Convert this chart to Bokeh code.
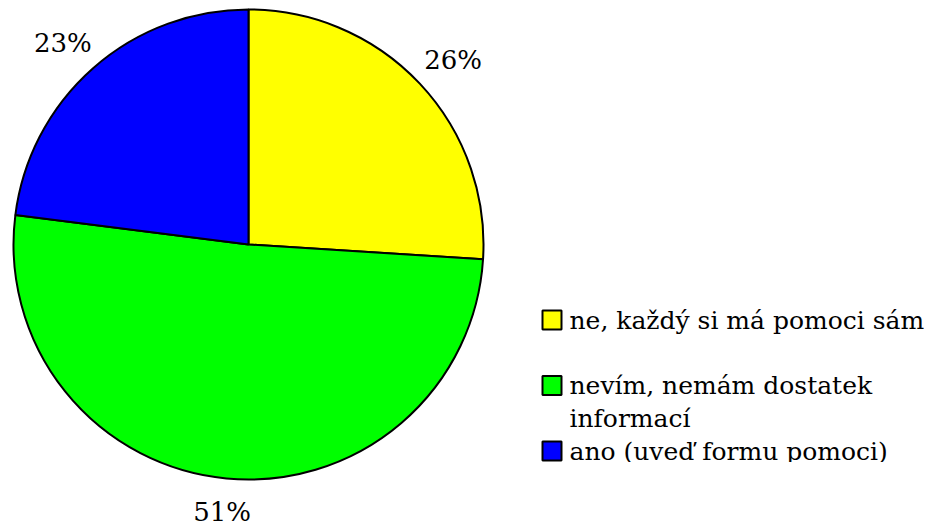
import math
from bokeh.plotting import figure
from bokeh.models import Range1d, ColumnDataSource
from bokeh.layouts import row
from bokeh.core.properties import value
from bokeh.embed import file_html
from bokeh.resources import INLINE

# ---- data ----
categories = ["ne, každý si má pomoci sám", "nevím, nemám dostatek\ninformací", "ano (uveď formu pomoci)"]
shares = [26, 51, 23]
pct_labels = ["26%", "51%", "23%"]
colors = ["#FFFF00", "#00FF00", "#0000FF"]

FONT = "DejaVu Serif"
WIN_H = 530  # data y = WIN_H - screen y

# ---- pie figure ----
left_w, left_h = 528, 530
p = figure(width=left_w, height=left_h, output_backend="svg", toolbar_location=None,
           x_range=Range1d(0, left_w), y_range=Range1d(WIN_H - left_h, WIN_H),
           x_axis_location=None, y_axis_location=None, min_border=0,
           outline_line_color=None, background_fill_color="white", border_fill_color="white")
p.grid.visible = False

cx, cy, r = 248, WIN_H - 244, 235
total = float(sum(shares))
starts, ends, lx, ly = [], [], [], []
acc = 0.0
font_px = 26
for s, t in zip(shares, pct_labels):
    f0 = acc / total
    acc += s
    f1 = acc / total
    a0 = math.pi / 2 - 2 * math.pi * f0
    a1 = math.pi / 2 - 2 * math.pi * f1
    starts.append(a0)
    ends.append(a1)
    mid = (a0 + a1) / 2
    ux, uy = math.cos(mid), math.sin(mid)
    w = 0.66 * font_px * len(t)
    d = 255
    lx.append(cx + ux * (d + w / 2))
    ly.append(cy + uy * (d + 14))

src = ColumnDataSource(dict(start=starts, end=ends, color=colors))
p.wedge(x=cx, y=cy, radius=r, radius_units="screen", start_angle="start", end_angle="end",
        direction="clock", fill_color="color", line_color="black", line_width=2, source=src)

p.text(x=lx, y=ly, text=pct_labels, text_font=value(FONT), text_font_size=f"{font_px}px",
       text_align="center", text_baseline="middle", text_color="black")

# ---- legend figure ----
right_w, right_h = 406, 462
q = figure(width=right_w, height=right_h, output_backend="svg", toolbar_location=None,
           x_range=Range1d(left_w, left_w + right_w),
           y_range=Range1d(WIN_H - right_h, WIN_H),
           x_axis_location=None, y_axis_location=None, min_border=0,
           outline_line_color=None, background_fill_color="white", border_fill_color="white")
q.grid.visible = False

pitch = 65.5
first_mid = 319.5
sq_x, txt_x = 551.5, 569
sqx, sqy, tx, ty, tt = [], [], [], [], []
for i, cat in enumerate(categories):
    mid = first_mid + i * pitch
    sqx.append(sq_x)
    sqy.append(WIN_H - mid)
    for j, line in enumerate(cat.split("\n")):
        tx.append(txt_x)
        ty.append(WIN_H - (mid + j * 33))
        tt.append(line)

q.scatter(x=sqx, y=sqy, marker="square", size=19, fill_color=colors, line_color="black", line_width=2)
q.text(x=tx, y=ty, text=tt, text_font=value(FONT), text_font_size="25px",
       text_align="left", text_baseline="middle", text_color="black")

layout = row(p, q, spacing=0)
open("out.html", "w").write(file_html(layout, INLINE))
